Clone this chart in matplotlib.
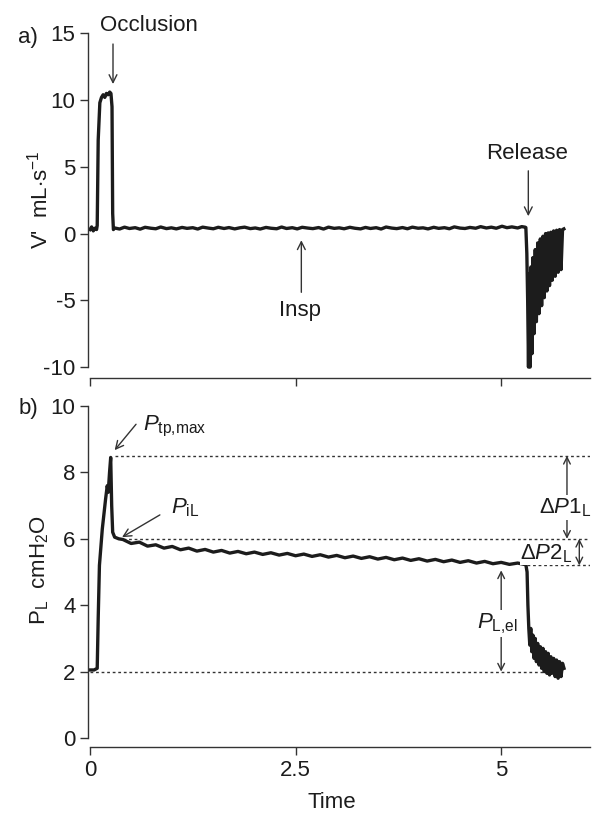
import matplotlib
matplotlib.use("Agg")
import matplotlib.pyplot as plt

plt.rcParams['font.family'] = ['Liberation Sans', 'DejaVu Sans']
plt.rcParams['mathtext.fontset'] = 'custom'
plt.rcParams['mathtext.rm'] = 'Liberation Sans'
plt.rcParams['mathtext.it'] = 'Liberation Sans:italic'
plt.rcParams['mathtext.bf'] = 'Liberation Sans:bold'
plt.rcParams['mathtext.sf'] = 'Liberation Sans'

# ---------------- data ----------------
# a) flow V' (mL/s)
flow_t_onset = [0.00, 0.02, 0.04, 0.06, 0.08, 0.088, 0.10, 0.12, 0.14, 0.16, 0.18, 0.20,
                0.22, 0.24, 0.255, 0.268, 0.276, 0.285]
flow_v_onset = [0.3, 0.5, 0.2, 0.4, 0.3, 0.6, 7.0, 9.8, 10.2, 10.4, 10.2, 10.5,
                10.4, 10.6, 10.5, 9.5, 1.5, 0.3]
flow_t_plateau = [0.30, 0.36, 0.42, 0.48, 0.55, 0.61, 0.67, 0.74, 0.80, 0.86, 0.93, 0.99,
                  1.05, 1.12, 1.18, 1.25, 1.31, 1.37, 1.44, 1.50, 1.56, 1.63, 1.69, 1.76,
                  1.82, 1.88, 1.95, 2.01, 2.07, 2.14, 2.20, 2.27, 2.33, 2.39, 2.46, 2.52,
                  2.58, 2.65, 2.71, 2.78, 2.84, 2.90, 2.97, 3.03, 3.09, 3.16, 3.22, 3.29,
                  3.35, 3.41, 3.48, 3.54, 3.60, 3.67, 3.73, 3.80, 3.86, 3.92, 3.99, 4.05,
                  4.11, 4.18, 4.24, 4.31, 4.37, 4.43, 4.50, 4.56, 4.62, 4.69, 4.75, 4.82,
                  4.88, 4.94, 5.01, 5.07, 5.13, 5.20, 5.25, 5.29]
flow_v_plateau = [0.42, 0.34, 0.48, 0.38, 0.44, 0.33, 0.47, 0.40, 0.36, 0.49, 0.37, 0.43,
                  0.35, 0.46, 0.39, 0.44, 0.34, 0.48, 0.41, 0.36, 0.47, 0.38, 0.45, 0.35,
                  0.43, 0.48, 0.37, 0.42, 0.34, 0.46, 0.40, 0.36, 0.49, 0.38, 0.44, 0.35,
                  0.47, 0.41, 0.37, 0.45, 0.34, 0.48, 0.39, 0.43, 0.36, 0.47, 0.40, 0.35,
                  0.46, 0.38, 0.44, 0.34, 0.49, 0.41, 0.37, 0.45, 0.36, 0.48, 0.40, 0.43,
                  0.35, 0.47, 0.39, 0.44, 0.36, 0.50, 0.41, 0.38, 0.46, 0.40, 0.52, 0.42,
                  0.48, 0.40, 0.55, 0.44, 0.50, 0.42, 0.52, 0.48]
flow_t_release = [5.300, 5.312, 5.322, 5.332, 5.342, 5.352, 5.362, 5.374, 5.386, 5.400,
                  5.414, 5.428, 5.444, 5.460, 5.476, 5.492, 5.508, 5.524, 5.540, 5.556,
                  5.572, 5.588, 5.604, 5.620, 5.638, 5.656, 5.674, 5.692, 5.710, 5.728,
                  5.746, 5.762]
flow_v_release = [0.45, -1.5, -5.0, -10.0, -3.0, -10.0, -2.5, -9.0, -1.8, -7.5,
                  -1.2, -6.6, -0.7, -6.0, -0.4, -5.4, -0.2, -4.8, 0.0, -4.3,
                  0.05, -3.9, 0.1, -3.5, 0.2, -3.2, 0.25, -2.9, 0.3, -2.7,
                  0.3, 0.35]

# b) transpulmonary pressure PL (cmH2O)
pl_t_onset = [0.00, 0.05, 0.088, 0.100, 0.115, 0.150, 0.190, 0.210, 0.222, 0.238,
              0.252, 0.264, 0.276, 0.300, 0.350]
pl_v_onset = [2.05, 2.05, 2.10, 3.6, 5.2, 6.3, 7.2, 7.6, 7.4, 8.0,
              8.45, 7.0, 6.2, 6.05, 6.00]
pl_t_plateau = [0.40, 0.50, 0.60, 0.70, 0.80, 0.90, 1.00, 1.10, 1.20, 1.30, 1.40, 1.50,
                1.60, 1.70, 1.80, 1.90, 2.00, 2.10, 2.20, 2.30, 2.40, 2.50, 2.60, 2.70,
                2.80, 2.90, 3.00, 3.10, 3.20, 3.30, 3.40, 3.50, 3.60, 3.70, 3.80, 3.90,
                4.00, 4.10, 4.20, 4.30, 4.40, 4.50, 4.60, 4.70, 4.80, 4.90, 5.00, 5.10,
                5.20, 5.30]
pl_v_plateau = [5.98, 5.86, 5.90, 5.78, 5.82, 5.72, 5.77, 5.67, 5.72, 5.63, 5.68, 5.60,
                5.65, 5.57, 5.62, 5.55, 5.60, 5.53, 5.58, 5.51, 5.56, 5.49, 5.54, 5.47,
                5.52, 5.45, 5.50, 5.43, 5.48, 5.41, 5.46, 5.39, 5.44, 5.37, 5.42, 5.35,
                5.40, 5.33, 5.38, 5.31, 5.36, 5.29, 5.34, 5.27, 5.32, 5.25, 5.29, 5.23,
                5.27, 5.22]
pl_t_release = [5.315, 5.325, 5.336, 5.348, 5.360, 5.372, 5.386, 5.400, 5.414, 5.428,
                5.444, 5.460, 5.476, 5.492, 5.508, 5.524, 5.540, 5.556, 5.572, 5.588,
                5.604, 5.620, 5.638, 5.656, 5.674, 5.692, 5.710, 5.728, 5.746, 5.764]
pl_v_release = [5.0, 4.0, 3.3, 2.8, 3.3, 2.6, 3.1, 2.4, 3.0, 2.3,
                2.85, 2.2, 2.75, 2.1, 2.7, 2.0, 2.6, 1.95, 2.55, 1.9,
                2.45, 1.95, 2.4, 1.85, 2.35, 1.8, 2.3, 1.85, 2.25, 2.1]

flow_t = flow_t_onset + flow_t_plateau + flow_t_release
flow_v = flow_v_onset + flow_v_plateau + flow_v_release
pl_t = pl_t_onset + pl_t_plateau + pl_t_release
pl_v = pl_v_onset + pl_v_plateau + pl_v_release

# reference levels
p_tp_max = 8.5
p_iL = 6.0
p_el = 5.2
p_base = 2.0

top_yticks = [-10, -5, 0, 5, 10, 15]
bot_yticks = [0, 2, 4, 6, 8, 10]
xticks = [0, 2.5, 5]
xticklabels = ['0', '2.5', '5']

# ---------------- figure ----------------
W, H = 597, 814
fig = plt.figure(figsize=(W / 100, H / 100), dpi=100)
ink = '#1c1c1c'
axc = '#333333'
FS = 16

def px_axes(left, top, right, bottom):
    return fig.add_axes([left / W, 1 - bottom / H, (right - left) / W, (bottom - top) / H])

axA = px_axes(88, 32, 590, 378)
axB = px_axes(88, 406, 590, 747)

for ax in (axA, axB):
    ax.set_xlim(-0.024, 6.08)
    for s in ('top', 'right'):
        ax.spines[s].set_visible(False)
    for s in ('left', 'bottom'):
        ax.spines[s].set_color(axc)
        ax.spines[s].set_linewidth(1.0)
    ax.spines['bottom'].set_bounds(0, 6.08)
    ax.set_xticks(xticks)
    ax.tick_params(axis='both', direction='out', length=6, width=1.0, color=axc,
                   labelsize=FS, labelcolor=ink, pad=3)
    ax.set_facecolor('none')

# panel a
axA.set_ylim(-10.82, 15.1)
axA.spines['left'].set_bounds(-10, 15)
axA.set_yticks(top_yticks)
axA.set_yticklabels([str(v) for v in top_yticks])
axA.set_xticklabels([])
axA.plot(flow_t, flow_v, color=ink, lw=2.4, solid_joinstyle='round')

arrow_kw = dict(arrowstyle='->', color='#333333', lw=1.0, shrinkA=0, shrinkB=0,
                mutation_scale=14)
axA.annotate('', xy=(0.28, 11.2), xytext=(0.28, 14.2), arrowprops=arrow_kw, annotation_clip=False)
axA.text(0.72, 15.55, 'Occlusion', ha='center', va='center', fontsize=FS, color=ink, clip_on=False)
axA.annotate('', xy=(5.33, 1.3), xytext=(5.33, 4.7), arrowprops=arrow_kw)
axA.text(5.32, 6.0, 'Release', ha='center', va='center', fontsize=FS, color=ink)
axA.annotate('', xy=(2.57, -0.5), xytext=(2.57, -4.4), arrowprops=arrow_kw)
axA.text(2.55, -5.75, 'Insp', ha='center', va='center', fontsize=FS, color=ink)

fig.text(40 / W, 1 - 200 / H, "V'  mL$\\cdot$s$^{\\mathrm{-1}}$", rotation=90, ha='center',
         va='center', fontsize=FS, color=ink)
fig.text(28 / W, 1 - 38 / H, 'a)', ha='center', va='center', fontsize=FS, color=ink)

# panel b
axB.set_ylim(-0.27, 10.0)
axB.spines['left'].set_bounds(0, 10)
axB.set_yticks(bot_yticks)
axB.set_yticklabels([str(v) for v in bot_yticks])
axB.set_xticklabels(xticklabels)
dot_kw = dict(color='#333333', lw=1.0, ls=(0, (2, 2)))
axB.plot([0.30, 6.08], [p_tp_max, p_tp_max], **dot_kw)
axB.plot([0.40, 6.08], [p_iL, p_iL], **dot_kw)
axB.plot([5.32, 6.08], [p_el, p_el], **dot_kw)
axB.plot([0.0, 5.55], [p_base, p_base], **dot_kw)
axB.plot(pl_t, pl_v, color=ink, lw=2.4, solid_joinstyle='round')

axB.annotate('', xy=(0.30, 8.67), xytext=(0.56, 9.45), arrowprops=arrow_kw)
axB.text(0.64, 9.38, '$P_{\\mathrm{tp{,}max}}$', ha='left', va='center', fontsize=FS, color=ink)
axB.annotate('', xy=(0.39, 6.05), xytext=(0.85, 6.72), arrowprops=arrow_kw)
axB.text(0.99, 6.95, '$P_{\\mathrm{iL}}$', ha='left', va='center', fontsize=FS, color=ink)

dbl_kw = dict(arrowstyle='<->', color='#333333', lw=1.0, shrinkA=0, shrinkB=0,
              mutation_scale=12)
axB.annotate('', xy=(5.80, p_tp_max), xytext=(5.80, p_iL), arrowprops=dbl_kw)
axB.text(5.78, 6.95, '$\\Delta P1_{\\mathrm{L}}$', ha='center', va='center', fontsize=FS,
         color=ink, bbox=dict(facecolor='white', edgecolor='none', pad=1))
axB.annotate('', xy=(5.95, p_iL), xytext=(5.95, p_el), arrowprops=dbl_kw)
axB.text(5.55, 5.55, '$\\Delta P2_{\\mathrm{L}}$', ha='center', va='center', fontsize=FS,
         color=ink, bbox=dict(facecolor='white', edgecolor='none', pad=0))
axB.annotate('', xy=(5.00, 5.05), xytext=(5.00, p_base), arrowprops=dbl_kw)
axB.text(4.96, 3.45, '$P_{\\mathrm{L{,}el}}$', ha='center', va='center', fontsize=FS,
         color=ink, bbox=dict(facecolor='white', edgecolor='none', pad=1))

fig.text(40 / W, 1 - 570 / H, 'P$_{\\mathrm{L}}$  cmH$_{\\mathrm{2}}$O', rotation=90, ha='center',
         va='center', fontsize=FS, color=ink)
fig.text(28 / W, 1 - 408 / H, 'b)', ha='center', va='center', fontsize=FS, color=ink)
fig.text(332 / W, 1 - 802 / H, 'Time', ha='center', va='center', fontsize=FS, color=ink)

fig.savefig('out.png', dpi=100)
